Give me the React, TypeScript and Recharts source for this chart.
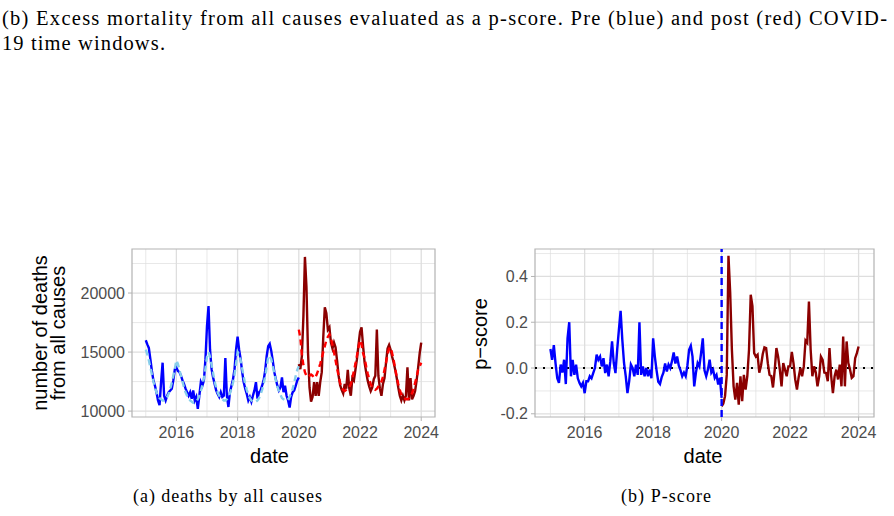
import {
  CartesianGrid, Line, LineChart, ReferenceArea, ReferenceLine, XAxis, YAxis,
} from 'recharts';

// sampling grid: 2015.00 .. 2024.00, every 0.05 year
const START_YEAR = 2015;
const STEP = 0.05;
const SPLIT = 100; // index of 2020.00

const yearTicks = [2016, 2018, 2020, 2022, 2024];
const yearMinor = [2015, 2017, 2019, 2021, 2023];
const deathTicks = [10000, 15000, 20000];
const deathMinor = [12500, 17500, 22500];
const pTicks = [-0.2, 0, 0.2, 0.4];
const pMinor = [-0.1, 0.1, 0.3, 0.5];

// observed deaths, pre window (2015.00 - 2020.00)
const preObserved = [
  16000, 15650, 15350, 14400, 13400, 12600, 12150, 11600, 10900, 10500, 12450, 14100, 11300, 10900, 11300, 11600, 11750, 11900, 12600, 13550,
  13700, 13400, 13300, 13000, 12600, 12300, 11900, 11600, 11300, 11600, 11050, 11750, 10900, 11200, 10200, 11300, 12450, 12150, 12600, 14400,
  17200, 18900, 15200, 13550, 12850, 12300, 11750, 11450, 11200, 11600, 11200, 11300, 14500, 11300, 10350, 11600, 12150, 12700, 13550, 15200,
  16300, 15200, 14400, 13300, 12450, 11900, 11450, 10900, 11200, 10800, 11300, 11750, 12450, 11050, 11600, 11750, 12150, 12600, 13400, 14650,
  15500, 15700, 15100, 14250, 13300, 12700, 12150, 11750, 12000, 12850, 11600, 12150, 11300, 10900, 10300, 11200, 11600, 11750, 12150, 12600,
  12850,
];

// expected deaths, pre window
const preExpected = [
  15200, 14800, 14300, 13700, 13100, 12500, 12000, 11600, 11300, 11100, 11000, 10900, 10900, 11000, 11200, 11500, 11900, 12400, 13000, 13600,
  14300, 14000, 13500, 13000, 12500, 12000, 11600, 11300, 11100, 10900, 10800, 10700, 10700, 10800, 11000, 11300, 11700, 12200, 12800, 13600,
  14600, 15000, 14600, 13900, 13200, 12500, 12000, 11600, 11300, 11100, 11000, 10900, 10900, 11000, 11200, 11500, 11900, 12400, 13100, 14000,
  15000, 14800, 14300, 13600, 12900, 12300, 11800, 11400, 11100, 10900, 10800, 10800, 10800, 10900, 11100, 11400, 11800, 12300, 12900, 13700,
  14600, 14700, 14400, 13800, 13200, 12600, 12100, 11700, 11400, 11100, 11000, 10900, 10900, 11000, 11200, 11500, 11900, 12400, 13000, 13500,
  13800,
];

// observed deaths, post window (2020.00 - 2024.00)
const postObserved = [
  13970, 13550, 14650, 18000, 23060, 20500, 15000, 12000, 10800, 11200, 12450, 11300, 12450, 11300, 12450, 13300, 16300, 18800, 18300, 16900,
  17100, 15800, 15300, 15800, 15400, 14300, 13000, 12200, 11800, 11500, 12300, 11900, 13500, 11900, 11300, 12800, 12600, 13500, 14400, 15600,
  16700, 17100, 15500, 14100, 13300, 12600, 12100, 11700, 12000, 12700, 13000, 16900, 13000, 11900, 11300, 12300, 12800, 14100, 15300, 15600,
  15200, 14600, 14100, 13500, 12800, 12000, 11300, 10900, 11300, 10900, 11300, 13700, 10900, 12800, 11000, 11300, 11700, 12600, 13700, 14900,
  15800,
];

// expected deaths, post window
const postExpected = [
  16900, 16200, 14800, 13900, 13300, 13000, 12900, 13000, 13100, 13000, 12800, 12900, 13200, 13600, 14000, 14500, 15000, 15500, 16000, 16300,
  16500, 16200, 15600, 15000, 14300, 13600, 13000, 12400, 12000, 11800, 11700, 11800, 11900, 12000, 12300, 12800, 13400, 14000, 14700, 15400,
  16000, 15700, 14900, 14500, 13800, 13200, 12700, 12300, 12000, 11900, 11800, 11900, 12100, 12300, 12500, 12900, 13500, 14100, 14800, 15300,
  15400, 14900, 14300, 13600, 12900, 12300, 11800, 11400, 11200, 11100, 11000, 11000, 11100, 11300, 11500, 11900, 12400, 12900, 13500, 13800,
  14100,
];

// p-score, pre window
const prePscore = [
  0.083, 0.036, 0.10, 0.02, -0.045, -0.065, 0.015, -0.02, 0.036, -0.07, 0.13, 0.20, -0.036, 0.036, -0.03, 0.015, -0.045, -0.065, -0.08, -0.065,
  -0.11, -0.058, -0.058, -0.036, -0.045, -0.022, 0.0, 0.058, 0.036, 0.05, 0.007, 0.043, -0.022, 0.015, -0.036, 0.03, 0.116, 0.022, -0.022, 0.08,
  0.167, 0.25, 0.123, 0.022, -0.036, -0.11, -0.058, 0.015, 0.0, -0.036, 0.015, -0.03, 0.20, -0.03, 0.007, -0.036, 0.0, -0.036, -0.007, -0.045,
  0.13, 0.05, -0.01, -0.06, -0.07, -0.04, -0.02, 0.02, -0.015, 0.015, 0.0, 0.03, 0.068, 0.02, 0.05, 0.01, -0.01, -0.036, -0.02, -0.036,
  0.01, 0.08, 0.097, 0.05, -0.08, -0.02, 0.022, 0.007, 0.065, 0.13, -0.01, -0.036, -0.007, 0.036, -0.02, -0.007, -0.043, -0.03, -0.072, -0.043,
  -0.13,
];

// p-score, post window
const postPscore = [
  -0.167, -0.155, -0.123, -0.03, 0.49, 0.33, 0.08, -0.08, -0.138, -0.065, -0.16, -0.036, -0.145, -0.03, -0.094, -0.036, 0.08, 0.32, 0.27, 0.065,
  0.05, 0.058, -0.02, 0.01, 0.06, 0.09, 0.087, 0.02, -0.03, -0.035, -0.085, -0.01, 0.087, 0.05, -0.007, -0.08, 0.022, -0.007, -0.036, 0.007,
  0.007, 0.07, 0.02, -0.05, -0.094, -0.04, 0.0, -0.036, 0.007, 0.12, 0.11, 0.29, 0.08, -0.036, 0.007, -0.02, -0.08, -0.036, 0.05, 0.036,
  -0.02, -0.022, -0.058, 0.087, -0.036, -0.11, -0.036, -0.007, -0.05, 0.015, -0.08, 0.138, -0.08, 0.116, 0.022, -0.007, -0.043, -0.036, 0.043, 0.065,
  0.094,
];

const rows = Array.from({ length: preObserved.length + postObserved.length - 1 }, (_, i) => {
  const pre = i <= SPLIT;
  const post = i >= SPLIT;
  return {
    year: +(START_YEAR + i * STEP).toFixed(2),
    preObs: pre ? preObserved[i] : null,
    preExp: pre ? preExpected[i] : null,
    postObs: post ? postObserved[i - SPLIT] : null,
    postExp: post ? postExpected[i - SPLIT] : null,
    prePs: pre ? prePscore[i] : null,
    postPs: post ? postPscore[i - SPLIT] : null,
  };
});

const X_DOMAIN: [number, number] = [2014.55, 2024.45];
const DEATH_DOMAIN: [number, number] = [9500, 23730];
const P_DOMAIN: [number, number] = [-0.214, 0.52];

const SANS = 'Liberation Sans, Arial, sans-serif';
const SERIF = 'Liberation Serif, Times New Roman, serif';
const tick = { fontSize: 16, fill: '#4D4D4D', fontFamily: SANS };
const GRID = '#DEDEDE';
const BORDER = '#B3B3B3';
const LW = 2.4;

function DeathsPanel() {
  return (
    <LineChart width={440} height={260} data={rows} margin={{ top: 19, right: 5, bottom: 28, left: 62 }}>
      <CartesianGrid stroke={GRID} strokeWidth={0.7} verticalValues={yearMinor} horizontalValues={deathMinor} />
      <CartesianGrid stroke={GRID} strokeWidth={1.3} verticalValues={yearTicks} horizontalValues={deathTicks} />
      <XAxis
        dataKey="year" type="number" domain={X_DOMAIN} ticks={yearTicks} allowDataOverflow
        axisLine={false} tickLine={{ stroke: BORDER }} tickSize={4} tickMargin={6} tick={tick} height={45}
      />
      <YAxis
        type="number" domain={DEATH_DOMAIN} ticks={deathTicks} allowDataOverflow
        axisLine={false} tickLine={{ stroke: BORDER }} tickSize={4} tickMargin={3} tick={tick} width={70}
      />
      <ReferenceArea x1={X_DOMAIN[0]} x2={X_DOMAIN[1]} y1={DEATH_DOMAIN[0]} y2={DEATH_DOMAIN[1]}
        fill="none" stroke={BORDER} strokeWidth={1.2} ifOverflow="visible" />
      <Line dataKey="preObs" stroke="#0000FF" strokeWidth={LW} dot={false} activeDot={false} isAnimationActive={false} />
      <Line dataKey="postObs" stroke="#8B0000" strokeWidth={LW} dot={false} activeDot={false} isAnimationActive={false} />
      <Line dataKey="preExp" stroke="#87CEEB" strokeWidth={LW} strokeDasharray="6 4" dot={false} activeDot={false} isAnimationActive={false} />
      <Line dataKey="postExp" stroke="#FF0000" strokeWidth={LW} strokeDasharray="6 4" dot={false} activeDot={false} isAnimationActive={false} />
    </LineChart>
  );
}

function PscorePanel() {
  return (
    <LineChart width={454} height={260} data={rows} margin={{ top: 19, right: 20, bottom: 28, left: 35 }}>
      <CartesianGrid stroke={GRID} strokeWidth={0.7} verticalValues={yearMinor} horizontalValues={pMinor} />
      <CartesianGrid stroke={GRID} strokeWidth={1.3} verticalValues={yearTicks} horizontalValues={pTicks} />
      <XAxis
        dataKey="year" type="number" domain={X_DOMAIN} ticks={yearTicks} allowDataOverflow
        axisLine={false} tickLine={{ stroke: BORDER }} tickSize={4} tickMargin={6} tick={tick} height={45}
      />
      <YAxis
        type="number" domain={P_DOMAIN} ticks={pTicks} allowDataOverflow tickFormatter={(v: number) => v.toFixed(1)}
        axisLine={false} tickLine={{ stroke: BORDER }} tickSize={4} tickMargin={3} tick={tick} width={60}
      />
      <ReferenceArea x1={X_DOMAIN[0]} x2={X_DOMAIN[1]} y1={P_DOMAIN[0]} y2={P_DOMAIN[1]}
        fill="none" stroke={BORDER} strokeWidth={1.2} ifOverflow="visible" />
      <ReferenceLine y={0} stroke="#000" strokeWidth={2} strokeDasharray="2 6" />
      <Line dataKey="prePs" stroke="#0000FF" strokeWidth={LW} dot={false} activeDot={false} isAnimationActive={false} />
      <Line dataKey="postPs" stroke="#8B0000" strokeWidth={LW} dot={false} activeDot={false} isAnimationActive={false} />
      <ReferenceLine x={2020} stroke="#0000FF" strokeWidth={2.4} strokeDasharray="7 4" />
    </LineChart>
  );
}

export default function App() {
  return (
    <div style={{ position: 'absolute', left: 0, top: 0, width: 894, height: 516, background: '#fff', overflow: 'hidden' }}>
      <div style={{ position: 'absolute', left: 0, top: 230 }}><DeathsPanel /></div>
      <div style={{ position: 'absolute', left: 440, top: 230 }}><PscorePanel /></div>
      <svg width={894} height={516} style={{ position: 'absolute', left: 0, top: 0, pointerEvents: 'none' }}>
        <g fontFamily={SERIF} fill="#000">
          <text x={2} y={25} fontSize={20.5} textLength={885} lengthAdjust="spacing">
            (b) Excess mortality from all causes evaluated as a p-score. Pre (blue) and post (red) COVID-
          </text>
          <text x={2} y={50} fontSize={20.5} textLength={163} lengthAdjust="spacing">19 time windows.</text>
          <text x={133} y={502} fontSize={18} textLength={189} lengthAdjust="spacing">(a) deaths by all causes</text>
          <text x={621} y={502} fontSize={18} textLength={90} lengthAdjust="spacing">(b) P-score</text>
        </g>
        <g fontFamily={SANS} fontSize={20} fill="#000" textAnchor="middle">
          <text x={269.5} y={463}>date</text>
          <text x={703} y={463}>date</text>
          <text transform="translate(47 333) rotate(-90)">number of deaths</text>
          <text transform="translate(65 333) rotate(-90)">from all causes</text>
          <text transform="translate(487 334) rotate(-90)">p−score</text>
        </g>
      </svg>
    </div>
  );
}
